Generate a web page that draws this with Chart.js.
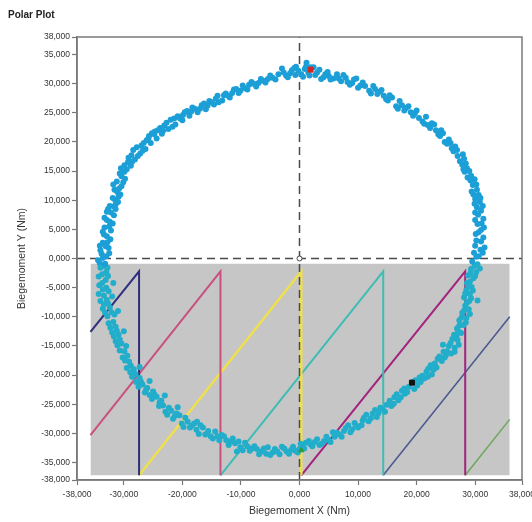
<!DOCTYPE html>
<html>
<head>
<meta charset="utf-8">
<script src="https://cdn.jsdelivr.net/npm/chart.js@4/dist/chart.umd.min.js"></script>
<style>
  html, body { margin: 0; padding: 0; background: #fff; }
  #wrap { width: 532px; height: 522px; }
</style>
</head>
<body>
<div id="wrap"><canvas id="chart"></canvas></div>
<script>
// tick values and their printed labels
const xTickValues = [-38000, -30000, -20000, -10000, 0, 10000, 20000, 30000, 38000];
const xTickLabels = ['-38,000', '-30,000', '-20,000', '-10,000', '0,000', '10,000', '20,000', '30,000', '38,000'];
const yTickValues = [-38000, -35000, -30000, -25000, -20000, -15000, -10000, -5000, 0, 5000, 10000, 15000, 20000, 25000, 30000, 35000, 38000];
const yTickLabels = ['-38,000', '-35,000', '-30,000', '-25,000', '-20,000', '-15,000', '-10,000', '-5,000', '0,000',
  '5,000', '10,000', '15,000', '20,000', '25,000', '30,000', '35,000', '38,000'];

const ring = [
  [-600,32900],[300,31600],[900,32500],[1500,31900],[1200,33600],[1900,32800],
  [2700,31500],[3400,32400],[4100,31100],[4800,32000],[5300,30700],
  [6400,31600],[7100,30400],[7900,31000],[8600,29800],[9300,30700],[10000,29300],[10800,30200],
  [11900,28800],[12600,29600],[13300,28200],[14000,28900],[14800,27300],[15400,28000],
  [16500,26100],[17100,27000],[17900,25400],[18600,26100],[19400,24500],[20000,25400],
  [21000,23500],[21600,24300],[22300,22400],[23000,23000],[23700,21300],[24200,22000],
  [24800,20000],[25500,20400],[26000,18900],[26600,19200],[27000,17600],[27900,17900],
  [27800,16100],[28400,16300],[28200,14900],[29000,15000],[29200,13400],[29900,13600],
  [29400,11500],[30300,11800],[30000,10200],[30900,10400],[30300,8800],[31300,9000],[30500,7500],
  [31400,6800],[30400,5900],[31500,5300],[30600,4500],[31400,3600],[30200,3100],[31600,1900],
  [30900,1500],[29800,1000],[30600,400],[29500,-500],[30400,-1000],
  [29300,-1800],[30200,-2300],[28800,-2900],[29700,-3400],[28600,-4200],
  [29400,-4900],[28500,-5400],[29100,-6100],[28100,-6700],[29000,-7300],[28300,-8100],[30400,-7200],
  [28900,-8700],[27800,-9300],[28500,-10200],[27300,-10600],[28000,-11400],[26900,-12000],
  [27600,-12800],[26400,-13100],[27000,-14000],[25800,-14500],[26500,-15300],[25200,-15900],[24500,-14800],[26500,-16000],
  [25000,-16600],[24600,-16000],[24300,-17600],[23600,-17200],[23400,-18700],[22400,-18300],
  [22600,-19900],[21700,-19400],[21300,-20600],[20500,-20400],[20100,-21800],[19300,-21200],
  [18400,-22900],[17900,-22300],[17300,-23800],[16600,-23300],[16100,-24900],[15400,-24400],
  [14600,-26300],[13800,-25600],[13200,-27200],[12500,-26600],[11800,-27900],[11000,-27300],
  [10000,-29000],[9400,-28200],[8700,-29800],[7900,-29100],[7200,-30600],[6400,-29900],
  [5300,-31500],[4600,-30600],[3800,-31800],[3000,-31000],[2200,-32200],[1600,-31300],
  [800,-32600],[200,-31800],[-300,-33300],
  [-1100,-32300],[-1800,-33500],[-2600,-32600],[-3400,-33600],[-4200,-32700],[-5000,-33700],
  [-6100,-32600],[-6900,-33600],[-7700,-32200],[-8500,-33000],[-9300,-31600],[-10100,-32400],
  [-11400,-30900],[-12100,-32000],[-12900,-30500],[-13700,-31200],[-14400,-29700],[-15200,-30500],[-10700,-33100],
  [-16500,-29000],[-17200,-30100],[-18000,-28300],[-18700,-29000],[-19500,-27300],[-20100,-28300],
  [-21000,-26600],[-21600,-27500],[-22300,-25600],[-22900,-26300],[-23600,-24400],[-24000,-25300],
  [-24800,-23300],[-25200,-24100],[-26000,-22200],[-26400,-23000],[-27100,-21100],[-27500,-22000],
  [-28000,-19800],[-28600,-20300],[-28800,-18400],[-29500,-18800],[-29400,-16700],[-30200,-17000],
  [-30400,-14600],[-31100,-14900],[-30900,-13100],[-31700,-13400],[-31400,-11700],[-32300,-11900],
  [-31600,-9600],[-32800,-9900],[-32400,-8400],[-33600,-8600],[-32900,-7100],[-34000,-7300],
  [-33000,-5000],[-34200,-4600],[-33100,-3700],[-34300,-3100],[-33000,-2300],[-34000,-1600],
  [-33200,-900],[-34400,-300],[-33000,400],
  [-34000,1400],[-32600,1800],[-33600,2700],[-32300,3300],[-33400,4100],
  [-32200,4800],[-33300,5300],[-31900,6000],[-32900,6600],[-31700,7400],[-32900,8000],
  [-31400,8500],[-32400,9000],[-31000,9700],[-31900,10400],[-30600,11000],
  [-31600,11800],[-30400,12400],[-31200,13200],[-29800,13700],[-30700,14600],[-29500,15300],
  [-29900,16000],[-28800,15900],[-29200,17300],[-28100,17000],[-28400,18600],[-27200,18000],
  [-27000,19400],[-26300,18800],[-26100,20300],[-25400,19800],[-25200,21500],[-24400,20600],
  [-24200,22000],[-23500,21400],[-23100,22800],[-22400,22200],[-22000,23800],[-21200,23000],
  [-20800,24400],[-20000,23700],[-19600,25100],[-18800,24500],[-18300,25900],[-17400,25100],
  [-16700,26300],[-16000,25600],[-15400,27000],[-14600,26400],[-14000,27900],[-13200,27100],
  [-12600,28300],[-11900,27600],[-11200,29000],[-10400,28400],[-9700,29700],[-8900,29000],
  [-8200,30300],[-7400,29500],[-6600,30800],[-5800,30200],[-5000,31400],[-4100,30700],
  [-2700,31900],[-2000,31100],[-1300,32300],[-700,31500],
  [-31000,-9000],[-30000,-12500],[-29600,-15000],[-27300,-18600],[-25600,-21000],
  [-31800,-4200],[-32000,-6500],[-23000,-23500],[-20800,-25500],[-17500,-28000]
];

// second sweep of samples from the same run
const ring2 = [
  [-3000,32600],[-2300,31400],[-1600,31800],[-900,32700],[-200,32200],[600,31200],[1100,32900],[1700,31400],
  [2400,32800],[3000,31900],[3700,30800],[4400,31600],[5000,31300],[5800,30900],[6700,30900],[7500,31500],
  [8200,30300],[9000,30100],[9700,30900],[10400,29700],[11200,29600],[12200,28300],[12900,29100],[13700,28600],
  [14400,27900],[15100,27100],[15800,27600],[16800,25700],[17500,26300],[18200,25800],[19000,25100],[19700,24900],
  [20400,24100],[21300,23100],[21900,22900],[22600,23200],[23300,22000],[24000,21000],[24500,21500],[25200,19700],
  [25800,19800],[26300,18400],[26900,18600],[27400,16700],[28100,17100],
  [28600,15500],[28000,15300],[29300,14200],[28700,13900],[29600,12600],[30200,12700],[29700,11000],[30600,10900],
  [29900,9400],[30800,9700],[31000,8200],[30000,7900],[31100,6000],[30000,6600],[31000,4900],[30100,4200],
  [31000,2900],[30000,2200],[31300,1000],[30200,300],[29900,-1300],[30800,-1700],[29200,-2500],[30000,-3000],
  [29100,-4000],[28800,-4700],[29600,-5500],[28300,-6000],[29300,-6800],[28600,-7600],[28100,-8900],[29100,-9500],
  [27700,-10100],[28400,-11000],[27300,-11500],[27100,-12500],[26800,-13300],[26100,-13800],[27200,-14800],[25500,-15000],
  [25900,-16300],[24800,-17000],[23900,-16800],[23100,-18000],[22900,-19100],[22000,-18900],[21900,-20300],[21000,-20100],
  [20700,-21200],[19800,-20900],[19600,-22400],[18700,-22000],[18000,-23200],[17500,-22700],[16900,-24300],[16200,-23800],
  [15700,-25300],[14900,-25100],[14200,-25800],[13500,-26500],[12900,-26000],[12200,-27400],[11400,-26800],[10600,-28600],
  [10800,-27800],[9700,-28700],[9000,-29300],[8300,-28600],[7600,-29600],[6800,-30200],[6000,-30600],[5700,-29800],
  [4900,-31100],[4200,-31300],[3400,-32000],[2600,-31500],[1900,-31900],[1100,-31600],[500,-32300],[0,-32700],
  [-700,-33000],[-1400,-32800],[-2200,-33100],[-3000,-32300],[-3800,-33100],[-4600,-33300],[-5400,-32400],[-5700,-33500],
  [-6500,-33100],[-7300,-32700],[-8100,-32600],[-8900,-32200],[-9700,-32900],[-10400,-31400],[-11000,-31700],[-11800,-31400],
  [-12500,-31200],[-13300,-30300],[-14000,-30500],[-14800,-30900],[-15600,-29600],[-16100,-30200],[-16900,-28600],[-17600,-29400],
  [-18400,-28700],[-19100,-28000],[-19800,-28900],[-20500,-26900],[-21300,-27000],[-21900,-26100],[-22600,-26800],[-23300,-25200],
  [-23900,-24700],[-24400,-23700],[-25000,-22800],[-25600,-23400],[-26200,-22500],[-26800,-21600],[-27300,-20500],[-27900,-21200],
  [-28300,-19000],[-28900,-19500],[-29100,-17700],[-29800,-17500],[-29900,-15900],[-30700,-15800],[-30700,-13900],[-31400,-14200],
  [-31200,-12400],[-32000,-12700],[-31800,-10900],[-32600,-11100],[-32100,-9200],[-33200,-9300],[-32700,-7700],[-33400,-7900],
  [-33400,-6400],[-34300,-6100],[-32600,-5600],[-33600,-5300],[-33700,-4200],[-32700,-3000],[-33700,-2700],[-33500,-1300],
  [-32800,-1600],[-34100,-800],[-33600,100],[-32500,900],[-33800,800],[-33100,2100],[-34100,2200],[-32800,2800],
  [-32900,3800],[-32500,5500],[-33600,4600],[-32400,6300],[-33300,7000],[-32200,7900],[-31700,8900],[-32700,8500],
  [-31400,9300],[-31500,10100],[-30900,10600],[-31100,11400],[-30800,12000],[-31800,12700],[-30100,13100],[-30400,14100],
  [-29900,14900],[-30500,15500],[-29300,16500],[-28600,16600],[-28700,17700],[-27600,17600],[-27800,19100],[-26800,18500],
  [-26600,19800],[-25800,20600],[-25700,21000],[-24800,21300],[-24700,21800],[-23800,22400],[-23300,21900],[-22700,23300],
  [-21700,22600],[-21400,24000],[-20400,24000],[-19900,24600],[-19200,25300],[-18500,25200],[-17900,25700],[-17000,25700],
  [-16300,26600],[-15700,26200],[-15000,26800],[-14300,27400],[-13800,26800],[-12900,28000],[-12200,27900],[-11500,28400],
  [-10800,29100],[-10100,28800],[-9300,29200],[-8600,29800],[-7800,30000],[-7000,30100],[-6200,30500],[-5400,30800],
  [-4600,31000],[-3600,31600]
];

// single markers
const markerRed = [1900, 32400];
const markerBlack = [19200, -21300];
const markerGreen = [300, -32900];
const markerOrigin = [0, 0];

// sawtooth traces in the lower half
const sawNavy1 = [[-35700, -12600], [-27400, -2200], [-27400, -37200]];
const sawPink = [[-35700, -30300], [-13500, -2200], [-13500, -37200]];
const sawYellow = [[-27400, -37200], [300, -2200], [300, -37200]];
const sawCyan = [[-13500, -37200], [14300, -2200], [14300, -37200]];
const sawMagenta = [[300, -37200], [28300, -2200], [28300, -37200]];
const sawNavy2 = [[14300, -37200], [35900, -10000]];
const sawGreen = [[28300, -37200], [35900, -27600]];

// zero axes and shaded zone
const zeroH = [[-38000, 0], [38000, 0]];
const zeroV = [[0, -38000], [0, 38000]];
const shadeX = [-35700, 35900];
const shadeTop = -900;
const shadeBottom = -37200;

const pts = arr => arr.map(p => ({ x: p[0], y: p[1] }));
const FONT = '"Liberation Sans", Arial, sans-serif';

function saw(data, color, width) {
  return { data: pts(data), showLine: true, borderColor: color, borderWidth: width, pointRadius: 0, tension: 0 };
}
function marker(p, style, color, r) {
  return { data: pts([p]), pointStyle: style, pointRadius: r, backgroundColor: color, borderColor: color, borderWidth: 1 };
}
// dots over the grey zone read a little more turquoise
const dotFill = c => (c.raw && c.raw.y < shadeTop ? '#22aecb' : '#1c9fd7');
function dots(data) {
  return { data: pts(data), pointRadius: 3, backgroundColor: dotFill, borderColor: dotFill, borderWidth: 0 };
}

const frame = {
  id: 'frame',
  afterDatasetsDraw(chart) {
    const { ctx, chartArea: a } = chart;
    ctx.save();
    ctx.strokeStyle = '#7a7a7a';
    ctx.lineWidth = 1.5;
    ctx.strokeRect(a.left, a.top, a.right - a.left, a.bottom - a.top);
    ctx.restore();
  }
};

new Chart(document.getElementById('chart'), {
  type: 'scatter',
  data: {
    datasets: [
      marker(markerRed, 'rect', '#d8261e', 3.5),
      marker(markerBlack, 'rect', '#111111', 3.5),
      marker(markerGreen, 'triangle', '#2e9a3e', 3),
      { data: pts([markerOrigin]), pointStyle: 'circle', pointRadius: 2.5, backgroundColor: '#ffffff', borderColor: '#444', borderWidth: 1 },
      dots(ring),
      dots(ring2),
      { data: pts(zeroH), showLine: true, borderColor: '#4a4a4a', borderWidth: 1.5, borderDash: [8, 5], pointRadius: 0 },
      { data: pts(zeroV), showLine: true, borderColor: '#4a4a4a', borderWidth: 1.5, borderDash: [8, 5], pointRadius: 0 },
      saw(sawNavy1, '#2e2f7c', 2),
      saw(sawPink, '#c9507f', 2),
      saw(sawYellow, '#f0e04a', 2.5),
      saw(sawCyan, '#3ebdb4', 2),
      saw(sawMagenta, '#a3237f', 2),
      saw(sawNavy2, '#4b5890', 1.5),
      saw(sawGreen, '#6aa85a', 1.5),
      {
        data: pts([[shadeX[0], shadeTop], [shadeX[1], shadeTop]]),
        showLine: true, borderWidth: 0, pointRadius: 0,
        backgroundColor: '#c6c6c6', fill: { value: shadeBottom }
      }
    ]
  },
  options: {
    responsive: true,
    maintainAspectRatio: false,
    animation: false,
    events: [],
    layout: { padding: { left: 8, right: 10, top: 0, bottom: 0 } },
    plugins: {
      legend: { display: false },
      tooltip: { enabled: false },
      title: {
        display: true, text: 'Polar Plot', align: 'start', color: '#222',
        font: { family: FONT, size: 10, weight: 'bold' },
        padding: { top: 9, bottom: 16 }
      }
    },
    scales: {
      x: {
        type: 'linear', min: -38000, max: 38000,
        afterBuildTicks: s => { s.ticks = xTickValues.map(v => ({ value: v })); },
        afterFit: s => { s.height = 42; s.paddingLeft = 0; s.paddingRight = 0; },
        ticks: {
          autoSkip: false, maxRotation: 0, padding: 5, color: '#333',
          font: { family: FONT, size: 8.5 },
          callback: (v, i) => xTickLabels[i]
        },
        grid: { drawOnChartArea: false, drawTicks: true, tickLength: 5, color: '#777', tickWidth: 1.2 },
        border: { display: true, color: '#7a7a7a', width: 1.5 },
        title: {
          display: true, text: 'Biegemoment X (Nm)', color: '#333',
          font: { family: FONT, size: 10.5 }, padding: { top: 0, bottom: 5 }
        }
      },
      y: {
        type: 'linear', min: -38000, max: 38000,
        afterBuildTicks: s => { s.ticks = yTickValues.map(v => ({ value: v })); },
        afterFit: s => { s.width = 69; s.paddingTop = 0; s.paddingBottom = 0; },
        ticks: {
          autoSkip: false, padding: 2, color: '#333',
          font: { family: FONT, size: 8.5 },
          callback: (v, i) => yTickLabels[i]
        },
        grid: { drawOnChartArea: false, drawTicks: true, tickLength: 5, color: '#777', tickWidth: 1.2 },
        border: { display: true, color: '#7a7a7a', width: 1.5 },
        title: {
          display: true, text: 'Biegemoment Y (Nm)', color: '#333',
          font: { family: FONT, size: 10.5 }, padding: { top: 8, bottom: 0 }
        }
      }
    }
  },
  plugins: [frame]
});
</script>
</body>
</html>
